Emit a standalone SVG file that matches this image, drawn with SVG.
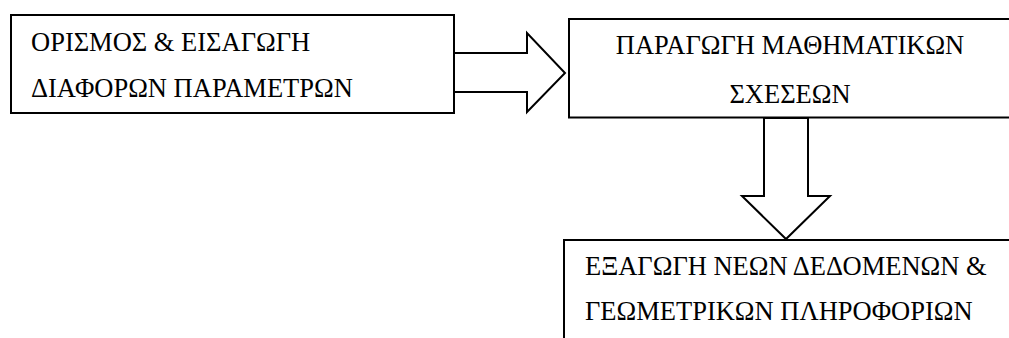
<svg xmlns="http://www.w3.org/2000/svg" width="1009" height="338" viewBox="0 0 1009 338" xml:lang="en" lang="en">
  <defs>
    <!-- shared block-arrow outlines, placed with <use> -->
    <polygon id="arrow-right" points="0,0 73,0 73,-20 111,20 73,59 73,39 0,39"/>
    <polygon id="arrow-down" points="0,0 0,78 -22,78 22,121 66,78 44,78 44,0"/>
  </defs>
  <rect x="0" y="0" width="1009" height="338" fill="#ffffff"/>

  <!-- text boxes: white fill, 2px black outline, Times-style lettering -->
  <g fill="#ffffff" stroke="#000000" stroke-width="2">
    <g id="node-orismos">
      <rect x="11" y="15" width="443" height="98"/>
      <g font-family="Liberation Serif, DejaVu Serif, serif" font-size="26.5" fill="#000000" stroke="none">
        <text x="31" y="51">ΟΡΙΣΜΟΣ &amp; ΕΙΣΑΓΩΓΗ</text>
        <text x="31" y="97">ΔΙΑΦΟΡΩΝ ΠΑΡΑΜΕΤΡΩΝ</text>
      </g>
    </g>

    <g id="node-paragogi">
      <rect x="569" y="19" width="460" height="98.5"/>
      <g font-family="Liberation Serif, DejaVu Serif, serif" font-size="26.5" fill="#000000" stroke="none" text-anchor="middle">
        <text x="790" y="54">ΠΑΡΑΓΩΓΗ ΜΑΘΗΜΑΤΙΚΩΝ</text>
        <text x="790" y="103">ΣΧΕΣΕΩΝ</text>
      </g>
    </g>

    <g id="node-exagogi">
      <rect x="564" y="240" width="470" height="120"/>
      <g font-family="Liberation Serif, DejaVu Serif, serif" font-size="26.5" fill="#000000" stroke="none">
        <text x="585" y="275">ΕΞΑΓΩΓΗ ΝΕΩΝ ΔΕΔΟΜΕΝΩΝ &amp;</text>
        <text x="585" y="320">ΓΕΩΜΕΤΡΙΚΩΝ ΠΛΗΡΟΦΟΡΙΩΝ</text>
      </g>
    </g>
  </g>

  <!-- block arrows between the boxes -->
  <g id="connectors" fill="#ffffff" stroke="#000000" stroke-width="2" stroke-linejoin="miter">
    <use href="#arrow-right" x="454" y="53"/>
    <use href="#arrow-down" x="764" y="118"/>
  </g>
</svg>
